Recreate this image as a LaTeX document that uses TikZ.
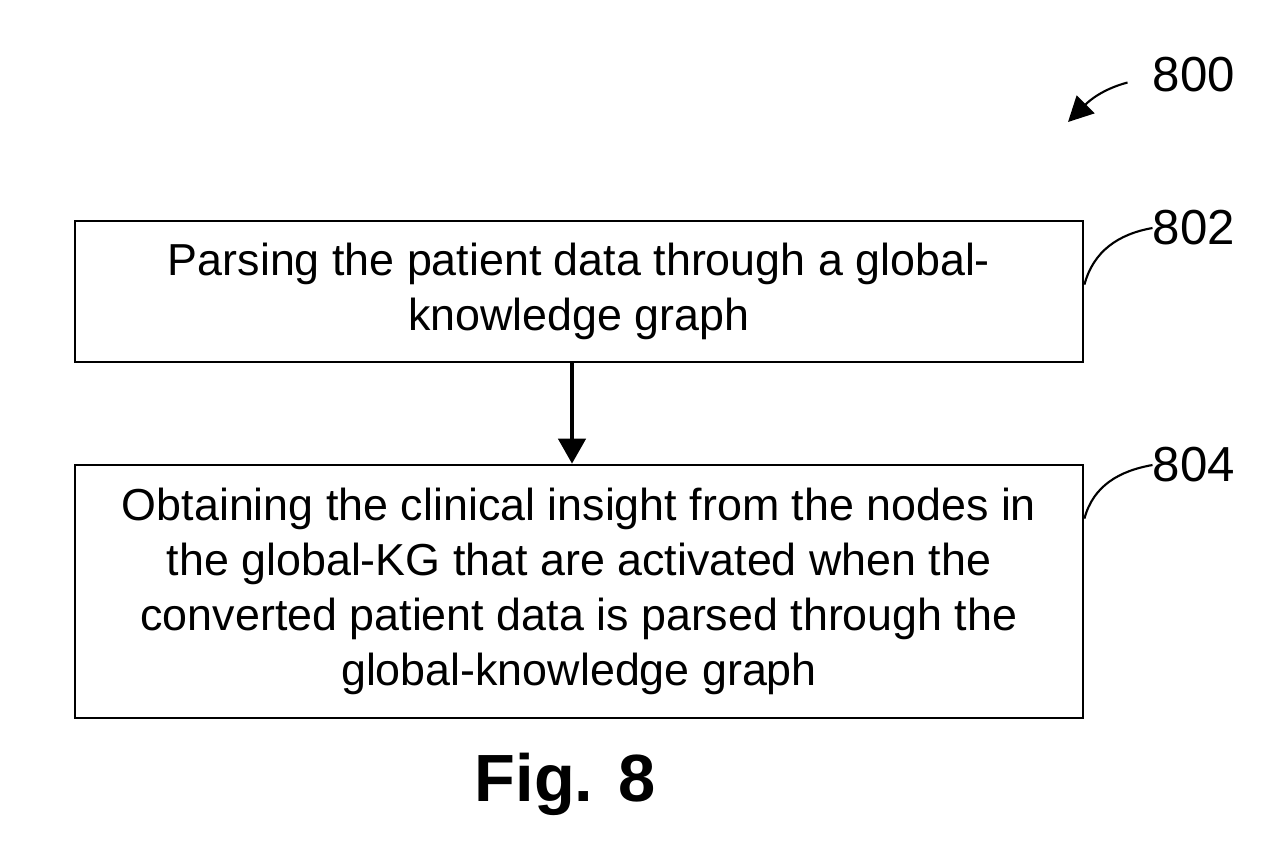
\documentclass[tikz,border=0pt]{standalone}
\usepackage{fontspec}
\setmainfont{Liberation Sans}
\usetikzlibrary{arrows.meta}

\tikzset{
    stepbox/.style={draw, line width=1.6pt, minimum width=20.16cm, align=center,
        inner sep=0pt, font=\fontsize{25.5}{31.2}\selectfont},
    refnum/.style={anchor=west, inner sep=0pt, font=\fontsize{28}{28}\selectfont},
    leader/.style={line width=1.2pt}
}

\begin{document}
\begin{tikzpicture}
    \useasboundingbox (0,0) rectangle (25.76,-17.32);

    % Steps
    \node[stepbox, minimum height=2.82cm] (parse) at (11.58,-5.83)
        {Parsing the patient data through a global-\\knowledge graph};
    \node[stepbox, minimum height=5.06cm] (insight) at (11.58,-11.83)
        {Obtaining the clinical insight from the nodes in\\
         the global-KG that are activated when the\\
         converted patient data is parsed through the\\
         global-knowledge graph};

    % Flow arrow
    \draw[line width=1.8pt, -{Triangle[length=0.5cm, width=0.55cm]}]
        ([xshift=-0.14cm]parse.south) -- ([xshift=-0.14cm]insight.north);

    % Reference numerals
    \node[refnum] (n800) at (23.05,-1.5) {800};
    \node[refnum] (n802) at (23.05,-4.56) {802};
    \node[refnum] (n804) at (23.05,-9.3) {804};

    \coordinate (a800) at (21.36,-2.44);
    \draw[leader, -{Triangle[length=0.5cm, width=0.5cm]}]
        ([xshift=-0.5cm,yshift=-0.15cm]n800.west) to[out=195, in=45] (a800);
    \draw[leader] ([yshift=-1.3cm]parse.north east) to[out=75, in=190] (n802.west);
    \draw[leader] ([yshift=-1.1cm]insight.north east) to[out=75, in=190] (n804.west);

    % Caption
    \node[font=\bfseries\fontsize{38}{38}\selectfont] (cap) at (11.3,-15.68) {Fig. 8};
\end{tikzpicture}
\end{document}
